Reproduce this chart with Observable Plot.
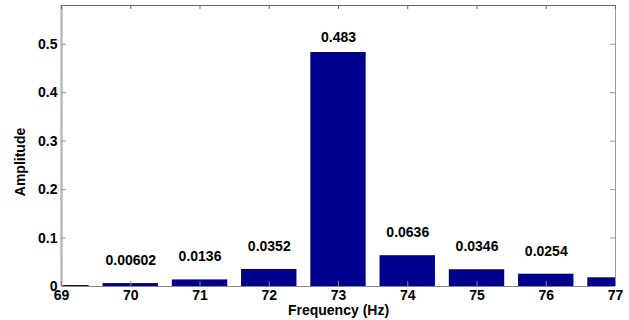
<!DOCTYPE html>
<html><head>
<meta charset="utf-8">
<script src="https://cdn.jsdelivr.net/npm/d3@7"></script>
<script src="https://cdn.jsdelivr.net/npm/@observablehq/plot@0.6"></script>
<style>
body{margin:0;background:#fff}
svg{font-family:"Liberation Sans",Arial,Helvetica,sans-serif}
</style>
</head><body><div id="chart"></div>
<script>
const frequencies = [69, 70, 71, 72, 73, 74, 75, 76, 77];
const amplitudes = [0.002, 0.00602, 0.0136, 0.0352, 0.483, 0.0636, 0.0346, 0.0254, 0.018];
const barLabels = ["", "0.00602", "0.0136", "0.0352", "0.483", "0.0636", "0.0346", "0.0254", ""];
const xTicks = [69, 70, 71, 72, 73, 74, 75, 76, 77];
const yTicks = [0, 0.1, 0.2, 0.3, 0.4, 0.5];
const yTickLabels = ["0", "0.1", "0.2", "0.3", "0.4", "0.5"];
const xTitle = "Frequency (Hz)";
const yTitle = "Amplitude";

const data = frequencies.map((f, i) => ({f, v: amplitudes[i], label: barLabels[i]}));
const labeled = data.filter(d => d.label);
const fs = 14;

const chart = Plot.plot({
  width: 629, height: 320,
  marginLeft: 61, marginRight: 14, marginTop: 5, marginBottom: 34,
  x: {domain: [69, 77]},
  y: {domain: [0, 0.58]},
  style: {fontSize: "14px", fontWeight: "bold", color: "black", background: "white"},
  marks: [
    Plot.rectY(data, {x1: d => d.f - 0.4, x2: d => d.f + 0.4, y1: 0, y2: "v", fill: "#00008F", clip: true}),
    Plot.text(labeled.filter(d => d.v > 0.3), {x: "f", y: "v", text: "label", dy: -15, fontWeight: "bold", fontSize: fs, fill: "black"}),
    Plot.text(labeled.filter(d => d.v <= 0.3), {x: "f", y: "v", text: "label", dy: -23, fontWeight: "bold", fontSize: fs, fill: "black"}),
    Plot.ruleY([0], {stroke: "#888", strokeWidth: 1}),
    Plot.ruleY([0.58], {stroke: "#666", strokeWidth: 1.2}),
    Plot.ruleX([77], {stroke: "#999", strokeWidth: 1}),
    Plot.ruleX([69], {stroke: "#bbb", strokeWidth: 2.5}),
    Plot.tickX(xTicks, {x: d => d, insetTop: 276, stroke: "#888"}),
    Plot.tickX(xTicks, {x: d => d, insetBottom: 277, stroke: "#666"}),
    Plot.tickY(yTicks, {y: d => d, insetRight: 549, stroke: "#999"}),
    Plot.tickY(yTicks, {y: d => d, insetLeft: 549, stroke: "#999"}),
    Plot.axisX(xTicks, {tickSize: 0, tickPadding: 4, label: null, fontWeight: "bold", fontSize: fs, tickFormat: d => String(d)}),
    Plot.axisY(yTicks, {tickSize: 0, tickPadding: 4, label: null, fontWeight: "bold", fontSize: fs, tickFormat: d => yTickLabels[yTicks.indexOf(d)]}),
    Plot.text([xTitle], {frameAnchor: "bottom", lineAnchor: "middle", text: d => d, dy: 24, fontWeight: "bold", fontSize: fs, fill: "black"}),
    Plot.text([yTitle], {frameAnchor: "left", textAnchor: "middle", text: d => d, rotate: -90, dx: -41, dy: 16, fontWeight: "bold", fontSize: fs, fill: "black"})
  ]
});
document.getElementById("chart").append(chart);
</script>
</body></html>
